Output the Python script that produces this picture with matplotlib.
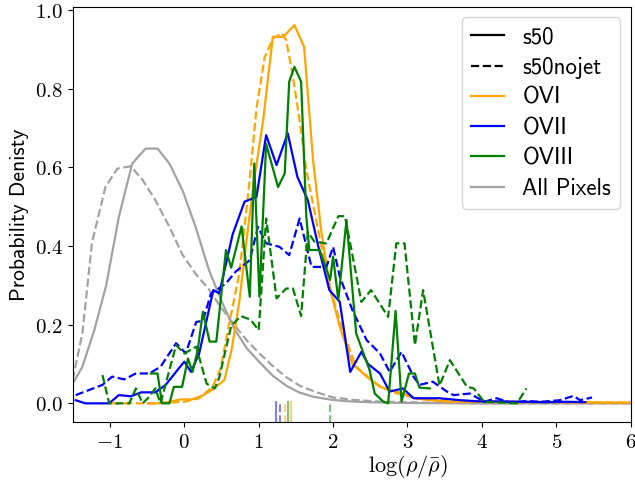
import matplotlib
matplotlib.use("Agg")
import matplotlib.pyplot as plt
from matplotlib.lines import Line2D
from matplotlib.ticker import FuncFormatter

# fonts: computer modern for numbers / math, cm sans for words
plt.rcParams["mathtext.fontset"] = "cm"
SANS = "cmss10"

ORANGE = "orange"
BLUE = "blue"
GREEN = "green"
GRAY = "#a2a2a2"

# ── data ──────────────────────────────────────────────────────
# All pixels, s50
pix_x = [-1.50, -1.37, -1.21, -1.05, -0.88, -0.70, -0.52, -0.36, -0.20, -0.02,
         0.15, 0.33, 0.50, 0.67, 0.84, 1.01, 1.19, 1.37, 1.54, 1.73, 1.98, 2.22,
         2.47, 2.72, 2.97, 3.46, 3.96, 4.45, 4.95, 5.44, 6.00]
pix_y = [0.05, 0.093, 0.186, 0.30, 0.474, 0.61, 0.648, 0.648, 0.61, 0.54,
         0.45, 0.34, 0.26, 0.19, 0.14, 0.105, 0.07, 0.045, 0.028, 0.017, 0.009, 0.005,
         0.003, 0.002, 0.001, 0.0005, 0.0, 0.0, 0.0, 0.0, 0.0]

# All pixels, s50nojet
pixnj_x = [-1.50, -1.37, -1.24, -1.06, -0.90, -0.72, -0.56, -0.39, -0.20, -0.03,
           0.15, 0.33, 0.49, 0.67, 0.84, 1.01, 1.19, 1.36, 1.55, 1.78, 2.00, 2.27,
           2.57, 2.97, 3.46, 3.96, 4.95, 6.00]
pixnj_y = [0.06, 0.178, 0.41, 0.55, 0.597, 0.603, 0.568, 0.517, 0.449, 0.38,
           0.33, 0.29, 0.245, 0.20, 0.16, 0.127, 0.095, 0.068, 0.045, 0.028, 0.015, 0.009,
           0.005, 0.003, 0.001, 0.0, 0.0, 0.0]

# OVI, s50
ovi_x = [-0.49, -0.35, -0.20, -0.05, 0.10, 0.25, 0.40, 0.54, 0.64, 0.74, 0.84, 0.94,
         1.06, 1.19, 1.33, 1.48, 1.61, 1.73, 1.84, 1.96, 2.09, 2.26, 2.45, 2.63, 2.76,
         2.94, 3.12, 3.31, 3.56, 3.86, 4.25, 4.75, 5.24, 5.74, 6.00]
ovi_y = [0.0, 0.0, 0.004, 0.01, 0.01, 0.02, 0.038, 0.06, 0.14, 0.26, 0.42, 0.57,
         0.72, 0.932, 0.932, 0.962, 0.907, 0.62, 0.44, 0.29, 0.195, 0.10, 0.068, 0.042, 0.034,
         0.025, 0.012, 0.008, 0.004, 0.004, 0.003, 0.003, 0.003, 0.002, 0.002]

# OVI, s50nojet
ovinj_x = [-0.97, -0.79, -0.59, -0.40, -0.20, 0.0, 0.20, 0.38, 0.49, 0.60, 0.74, 0.88,
           0.97, 1.08, 1.19, 1.31, 1.37, 1.46, 1.55, 1.64, 1.82, 1.98, 2.14, 2.31, 2.58,
           2.77, 2.97, 3.26, 3.66, 4.15, 4.65, 5.14, 5.64, 6.00]
ovinj_y = [0.0, 0.0, 0.0, 0.0, 0.002, 0.004, 0.013, 0.042, 0.09, 0.20, 0.33, 0.57,
           0.75, 0.88, 0.928, 0.941, 0.924, 0.83, 0.72, 0.593, 0.42, 0.28, 0.178, 0.093, 0.05,
           0.03, 0.02, 0.01, 0.006, 0.005, 0.004, 0.003, 0.002, 0.002]

# OVII, s50
ovii_x = [-1.46, -1.33, -1.17, -1.01, -0.88, -0.72, -0.58, -0.39, -0.25, -0.07, 0.0,
          0.09, 0.20, 0.39, 0.47, 0.65, 0.81, 0.97, 1.10, 1.24, 1.39, 1.52, 1.66, 1.80,
          1.95, 2.09, 2.23, 2.38, 2.47, 2.63, 2.76, 2.94, 3.08, 3.30, 3.43, 3.71, 3.96,
          4.25, 4.55, 4.85, 5.14, 5.39]
ovii_y = [0.008, 0.0, 0.0, 0.0, 0.021, 0.018, 0.028, 0.028, 0.047, 0.09, 0.106,
          0.08, 0.127, 0.288, 0.28, 0.43, 0.513, 0.525, 0.682, 0.606, 0.687, 0.576, 0.517, 0.40,
          0.288, 0.258, 0.08, 0.131, 0.10, 0.076, 0.03, 0.038, 0.013, 0.013, 0.013, 0.008, 0.005,
          0.005, 0.004, 0.003, 0.004, 0.003]

# OVII, s50nojet
oviinj_x = [-1.46, -1.28, -1.10, -0.97, -0.81, -0.65, -0.47, -0.32, -0.11, 0.02, 0.16,
            0.25, 0.36, 0.43, 0.56, 0.69, 0.88, 0.99, 1.10, 1.28, 1.41, 1.55, 1.71, 1.91,
            2.00, 2.09, 2.26, 2.45, 2.63, 2.76, 2.92, 3.08, 3.16, 3.34, 3.53, 3.62, 3.84,
            4.03, 4.20, 4.38, 4.60, 4.79, 5.05, 5.23, 5.32, 5.48]
oviinj_y = [0.021, 0.034, 0.047, 0.068, 0.061, 0.076, 0.076, 0.093, 0.153, 0.127, 0.207,
            0.21, 0.28, 0.288, 0.305, 0.335, 0.364, 0.449, 0.407, 0.398, 0.377, 0.47, 0.347, 0.347,
            0.398, 0.322, 0.237, 0.161, 0.127, 0.08, 0.131, 0.068, 0.047, 0.055, 0.03, 0.021, 0.025,
            0.004, 0.013, 0.002, 0.006, 0.004, 0.008, 0.019, 0.008, 0.015]

# OVIII, s50
oviii_x = [-0.45, -0.36, -0.30, -0.20, -0.14, -0.03, 0.05, 0.11, 0.18, 0.25, 0.34,
           0.43, 0.56, 0.63, 0.77, 0.88, 0.94, 1.01, 1.10, 1.26, 1.35, 1.41, 1.48, 1.57,
           1.64, 1.68, 1.82, 1.96, 2.00, 2.07, 2.18, 2.31, 2.49, 2.56, 2.67, 2.74, 2.84,
           2.92, 3.02, 3.10, 3.16, 3.30]
oviii_y = [0.076, 0.076, 0.0, 0.0, 0.042, 0.042, 0.114, 0.08, 0.135, 0.233, 0.157,
           0.157, 0.39, 0.345, 0.45, 0.271, 0.61, 0.271, 0.66, 0.55, 0.585, 0.818, 0.856, 0.818,
           0.474, 0.39, 0.39, 0.314, 0.373, 0.263, 0.466, 0.178, 0.085, 0.025, 0.005, 0.0, 0.235,
           0.005, 0.076, 0.076, 0.04, 0.038]

# OVIII, s50nojet
oviiinj_x = [-1.10, -1.01, -0.74, -0.65, -0.56, -0.47, -0.39, -0.32, -0.20, -0.11, 0.0,
             0.16, 0.30, 0.41, 0.47, 0.63, 0.76, 0.89, 1.00, 1.10, 1.24, 1.37, 1.46, 1.57,
             1.66, 1.75, 1.91, 2.07, 2.16, 2.38, 2.51, 2.74, 2.85, 2.96, 3.10, 3.21, 3.43,
             3.57, 3.80, 3.89, 4.03, 4.47, 4.60]
oviiinj_y = [0.072, 0.0, 0.0, 0.038, 0.0, 0.017, 0.038, 0.0, 0.085, 0.148, 0.127,
             0.144, 0.05, 0.038, 0.066, 0.197, 0.222, 0.213, 0.186, 0.47, 0.267, 0.292, 0.292, 0.222,
             0.436, 0.411, 0.407, 0.476, 0.476, 0.258, 0.288, 0.22, 0.407, 0.407, 0.148, 0.288, 0.045,
             0.11, 0.042, 0.038, 0.004, 0.0, 0.038]

# medians, shown as short ticks below zero
med_x = [1.23, 1.29, 1.35, 1.39, 1.43, 1.96]
med_color = [BLUE, BLUE, ORANGE, GREEN, ORANGE, GREEN]
med_style = ["-", "--", "--", "-", "-", "--"]

legend_labels = ["s50", "s50nojet", "OVI", "OVII", "OVIII", "All Pixels"]


fig = plt.figure(figsize=(6.35, 4.87), dpi=100)
ax = fig.add_axes([0.1145, 0.133, 0.8787, 0.8526])

lw = 1.6
ax.plot(pix_x, pix_y, "-", color=GRAY, lw=lw)
ax.plot(pixnj_x, pixnj_y, "--", color=GRAY, lw=lw)
ax.plot(ovi_x, ovi_y, "-", color=ORANGE, lw=lw)
ax.plot(ovinj_x, ovinj_y, "--", color=ORANGE, lw=lw)
ax.plot(ovii_x, ovii_y, "-", color=BLUE, lw=lw)
ax.plot(oviinj_x, oviinj_y, "--", color=BLUE, lw=lw)
ax.plot(oviii_x, oviii_y, "-", color=GREEN, lw=lw)
ax.plot(oviiinj_x, oviiinj_y, "--", color=GREEN, lw=lw)

for xm, c, ls in zip(med_x, med_color, med_style):
    ax.vlines(xm, -0.05, 0.005, colors=c, linestyles=ls, lw=1.5, alpha=0.5)

ax.set_xlim(-1.5, 6.0)
ax.set_ylim(-0.048, 1.008)
ax.set_xticks(range(-1, 7))
ax.set_yticks([0.0, 0.2, 0.4, 0.6, 0.8, 1.0])
ax.xaxis.set_major_formatter(FuncFormatter(lambda v, p: f"${v:g}$"))
ax.yaxis.set_major_formatter(FuncFormatter(lambda v, p: f"${v:.1f}$"))
ax.tick_params(labelsize=15)

ax.set_ylabel("Probability Denisty", fontsize=15.5, family=SANS)
ax.set_xlabel(r"$\log(\rho/\bar{\rho})$", fontsize=16)
ax.xaxis.set_label_coords(0.60, -0.075)

handles = [
    Line2D([], [], color="black", ls="-", lw=lw),
    Line2D([], [], color="black", ls="--", lw=lw),
    Line2D([], [], color=ORANGE, lw=lw),
    Line2D([], [], color=BLUE, lw=lw),
    Line2D([], [], color=GREEN, lw=lw),
    Line2D([], [], color=GRAY, lw=lw),
]
ax.legend(handles, legend_labels, loc="upper right", prop={"family": SANS, "size": 16.5},
          handlelength=1.45, labelspacing=0.36, borderaxespad=0.45)

fig.savefig("out.png", dpi=100, facecolor="white")
